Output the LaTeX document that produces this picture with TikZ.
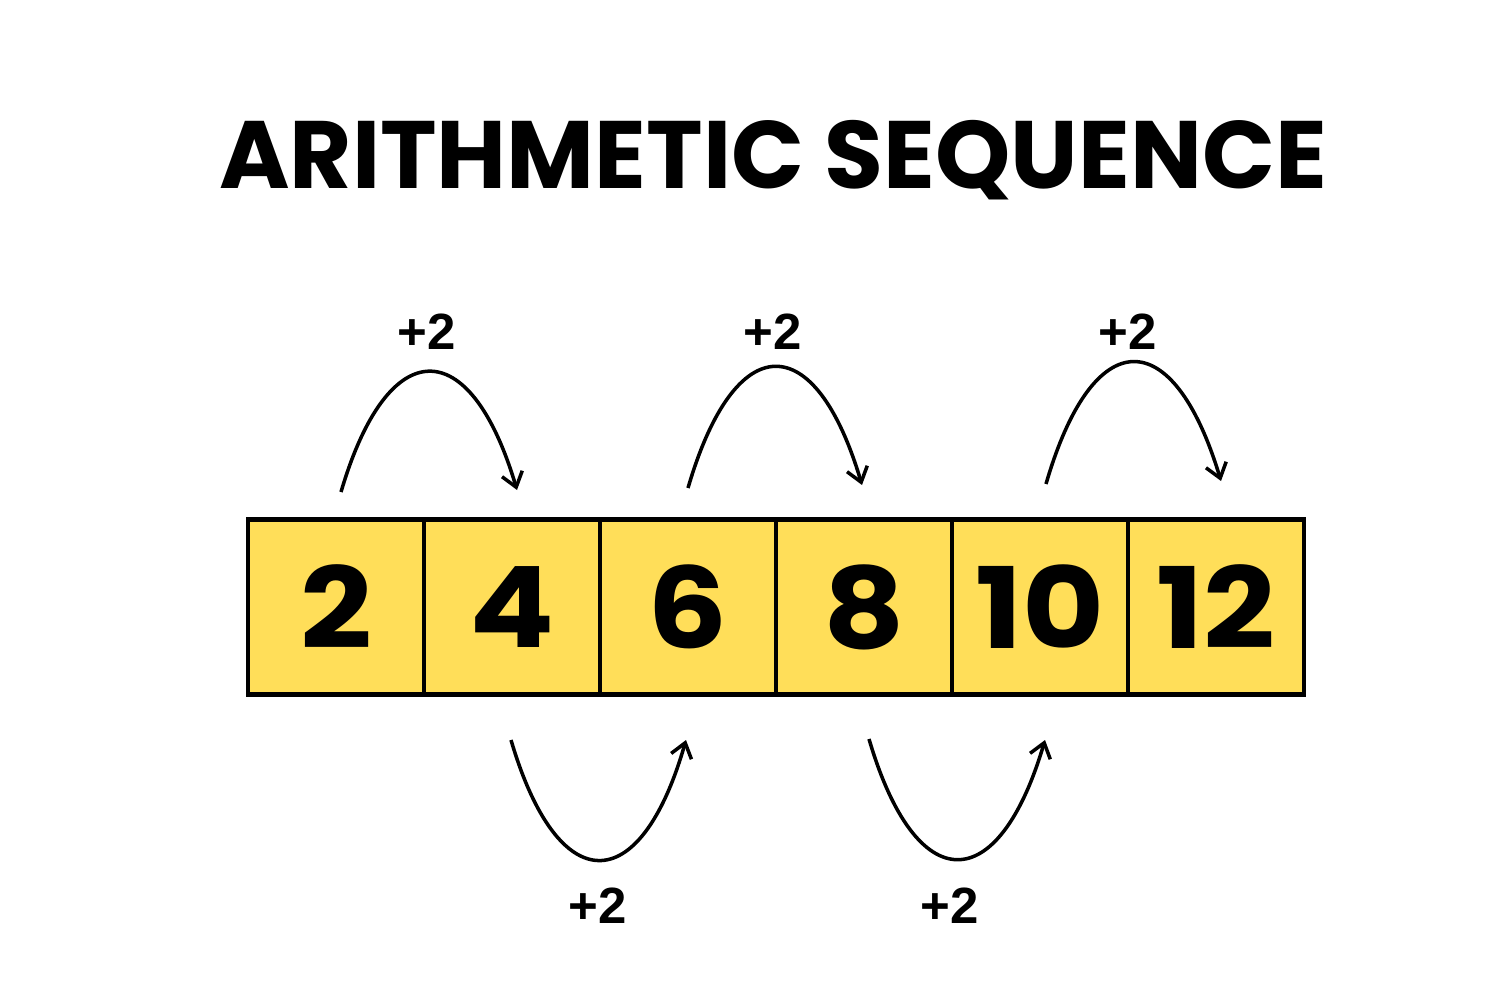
\documentclass[tikz,border=0pt]{standalone}
\usepackage{fontspec}
\setmainfont{Poppins}
\newfontfamily\labfont{Liberation Sans}
\usetikzlibrary{arrows.meta}
\definecolor{cellyellow}{HTML}{FFDE59}
\tikzset{
  cellbox/.style={draw=black, fill=cellyellow, line width=2.4pt, minimum width=176*0.02cm, minimum height=175*0.02cm, inner sep=0pt, font=\fontsize{64}{64}\selectfont\bfseries},
  hop/.style={line width=2pt, -{Straight Barb[length=8pt, width=12pt, line width=2pt]}},
  hoplabel/.style={font=\labfont\fontsize{29}{29}\selectfont\bfseries, inner sep=0pt},
}
\begin{document}
\begin{tikzpicture}[x=0.02cm, y=-0.02cm]
\useasboundingbox (0,0) rectangle (1500,1000);
\node[font=\fontsize{54.5}{54.5}\selectfont\bfseries, inner sep=0pt] (title) at (773,160) {ARITHMETIC SEQUENCE};
\node[cellbox] (c1) at (336,607) {\scalebox{1.12}[1]{2}};
\node[cellbox] (c2) at (512,607) {\scalebox{1.12}[1]{4}};
\node[cellbox] (c3) at (688,607) {\scalebox{1.12}[1]{6}};
\node[cellbox] (c4) at (864,607) {\scalebox{1.12}[1]{8}};
\node[cellbox] (c5) at (1040,607) {\scalebox{1.12}[1]{10}};
\node[cellbox] (c6) at (1216,607) {\scalebox{1.12}[1]{12}};
% arc end points
\coordinate (a1s) at (341,492); \coordinate (a1e) at (517,490);
\coordinate (a2s) at (688,488); \coordinate (a2e) at (862,485);
\coordinate (a3s) at (1046,484); \coordinate (a3e) at (1221,481);
\coordinate (b1s) at (511,740); \coordinate (b1e) at (686,740);
\coordinate (b2s) at (869,739); \coordinate (b2e) at (1045,740);
\draw[hop] (a1s) .. controls (388,332) and (470,332) .. (a1e);
\draw[hop] (a2s) .. controls (735,327) and (815,327) .. (a2e);
\draw[hop] (a3s) .. controls (1093,322) and (1173,322) .. (a3e);
\draw[hop] (b1s) .. controls (558,900) and (640,900) .. (b1e);
\draw[hop] (b2s) .. controls (916,899) and (998,899) .. (b2e);
\node[hoplabel] (l1) at (427,332) {+2};
\node[hoplabel] (l2) at (773,332) {+2};
\node[hoplabel] (l3) at (1128,332) {+2};
\node[hoplabel] (l4) at (598,906) {+2};
\node[hoplabel] (l5) at (950,906) {+2};
\end{tikzpicture}
\end{document}
